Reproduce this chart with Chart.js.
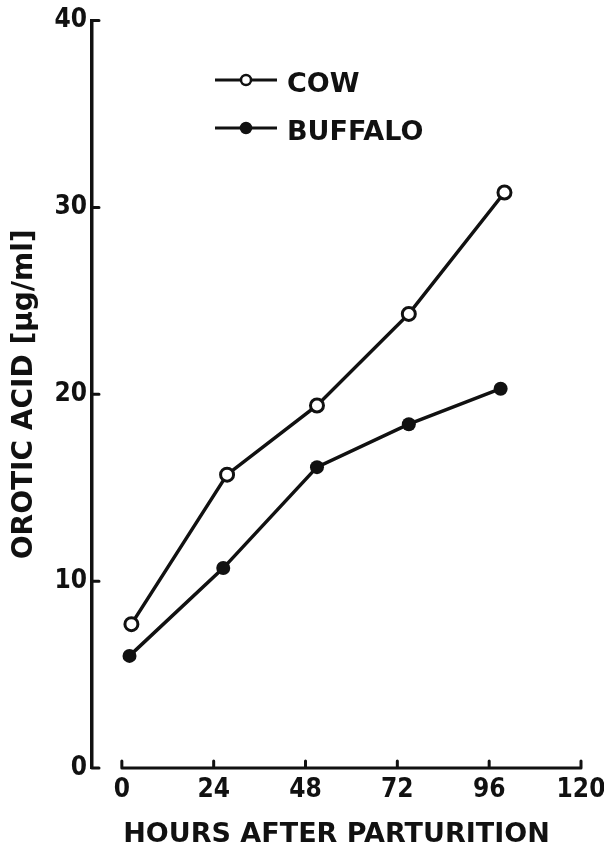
<!DOCTYPE html>
<html>
<head>
<meta charset="utf-8">
<script src="https://cdn.jsdelivr.net/npm/chart.js@4"></script>
<style>
  body { margin: 0; background: #fff; }
  canvas { display: block; }
</style>
</head>
<body>
<canvas id="myChart" width="604" height="854"></canvas>
<script>
const cowHours = [2.5, 27.5, 51, 75, 100];
const cowValues = [7.7, 15.7, 19.4, 24.3, 30.8];
const buffaloHours = [2, 26.5, 51, 75, 99];
const buffaloValues = [6.0, 10.7, 16.1, 18.4, 20.3];
const xTicks = [0, 24, 48, 72, 96, 120];
const yTicks = [0, 10, 20, 30, 40];

const ink = "#111";
const tickFont = { family: '"DejaVu Sans Condensed", "DejaVu Sans"', weight: "bold", size: 26 };
const labelFont = { family: '"DejaVu Sans"', weight: "bold", size: 27, lineHeight: 1 };

const toPoints = (xs, ys) => xs.map((x, i) => ({ x: x, y: ys[i] }));

// axis lines with inward ticks, like the printed figure
const axesPlugin = {
  id: "axes",
  afterDatasetsDraw(chart) {
    const { ctx, scales: { x, y } } = chart;
    const y0 = y.getPixelForValue(0);
    ctx.save();
    ctx.strokeStyle = ink;
    ctx.lineWidth = 3;
    ctx.lineCap = "round";
    ctx.beginPath();
    ctx.moveTo(x.getPixelForValue(xTicks[0]), y0);
    ctx.lineTo(x.getPixelForValue(xTicks[xTicks.length - 1]), y0);
    xTicks.forEach((t) => {
      const px = x.getPixelForValue(t);
      ctx.moveTo(px, y0);
      ctx.lineTo(px, y0 - 7);
    });
    const left = chart.chartArea.left;
    yTicks.forEach((t) => {
      const py = y.getPixelForValue(t);
      ctx.moveTo(left, py);
      ctx.lineTo(left + 7, py);
    });
    ctx.stroke();
    ctx.restore();
  },
};

// legend drawn as  —o— COW
const legendPlugin = {
  id: "lineLegend",
  afterDraw(chart) {
    const { ctx } = chart;
    const lx = 215, ly = 80, gap = 48;
    ctx.save();
    chart.data.datasets.forEach((ds, i) => {
      const yy = ly + i * gap;
      ctx.strokeStyle = ink;
      ctx.lineWidth = 3;
      ctx.beginPath();
      ctx.moveTo(lx, yy);
      ctx.lineTo(lx + 62, yy);
      ctx.stroke();
      ctx.beginPath();
      ctx.arc(lx + 31, yy, 5, 0, Math.PI * 2);
      ctx.fillStyle = ds.pointBackgroundColor;
      ctx.fill();
      ctx.lineWidth = 2.5;
      ctx.stroke();
      ctx.fillStyle = ink;
      ctx.font = "bold 27px 'DejaVu Sans'";
      ctx.textBaseline = "middle";
      ctx.fillText(ds.label, lx + 72, yy + 5);
    });
    ctx.restore();
  },
};

new Chart(document.getElementById("myChart"), {
  type: "line",
  data: {
    datasets: [
      {
        label: "COW",
        data: toPoints(cowHours, cowValues),
        borderColor: ink,
        borderWidth: 3.5,
        pointRadius: 6.5,
        pointBorderWidth: 3,
        pointBorderColor: ink,
        pointBackgroundColor: "#fff",
        tension: 0,
      },
      {
        label: "BUFFALO",
        data: toPoints(buffaloHours, buffaloValues),
        borderColor: ink,
        borderWidth: 3.5,
        pointRadius: 7,
        pointBorderWidth: 0,
        pointBorderColor: ink,
        pointBackgroundColor: ink,
        tension: 0,
      },
    ],
  },
  options: {
    responsive: false,
    animation: false,
    layout: { padding: { top: 20, right: 0, left: 0, bottom: 0 } },
    plugins: {
      legend: { display: false },
      tooltip: { enabled: false },
    },
    scales: {
      x: {
        type: "linear",
        min: -7.8,
        max: 120,
        afterBuildTicks: (scale) => { scale.ticks = xTicks.map((v) => ({ value: v })); },
        afterFit: (scale) => {
          scale.height = 86;
          scale.paddingLeft = 0;
          scale.paddingRight = 23;
        },
        grid: { display: false, drawTicks: false },
        border: { display: false },
        ticks: { color: ink, font: tickFont, padding: 7 },
        title: {
          display: true,
          text: "HOURS AFTER PARTURITION",
          color: ink,
          font: labelFont,
          padding: { top: 0, bottom: 6 },
        },
      },
      y: {
        min: 0,
        max: 40,
        afterBuildTicks: (scale) => { scale.ticks = yTicks.map((v) => ({ value: v })); },
        afterFit: (scale) => { scale.width = 92; },
        grid: { display: false, drawTicks: false },
        border: { display: true, color: ink, width: 3.5 },
        ticks: { color: ink, font: tickFont, padding: 5 },
        title: {
          display: true,
          text: "OROTIC ACID [µg/ml]",
          color: ink,
          font: { family: '"DejaVu Sans"', weight: "bold", size: 28, lineHeight: 1 },
          padding: { top: 11, bottom: 0 },
        },
      },
    },
  },
  plugins: [axesPlugin, legendPlugin],
});
</script>
</body>
</html>
